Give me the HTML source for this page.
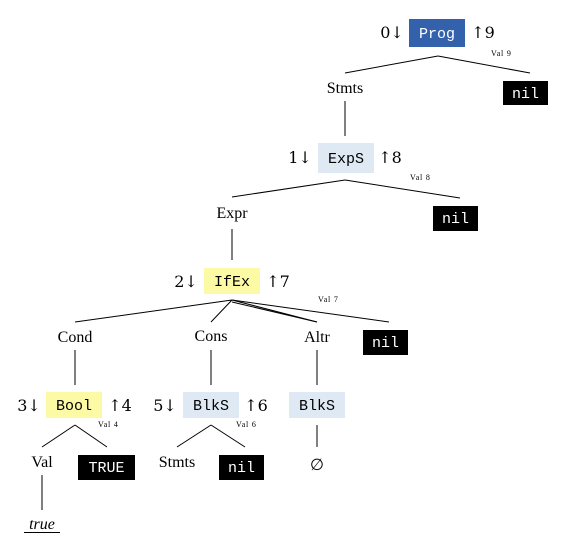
<!DOCTYPE html>
<html><head><style>
html,body{margin:0;padding:0;background:#fff;}
svg{display:block;}
.s{font-family:"Liberation Serif","DejaVu Serif",serif;font-size:16px;fill:#000;}
.a{font-family:"DejaVu Serif","Liberation Serif",serif;font-size:16px;fill:#000;}
.m{font-family:"Liberation Mono","DejaVu Sans Mono",monospace;font-size:15px;}
.v{font-family:"Liberation Serif",serif;font-size:8px;fill:#000;letter-spacing:0.8px;}
line{stroke:#000;stroke-width:1;}
</style></head><body>
<svg width="575" height="553" viewBox="0 0 575 553" xmlns="http://www.w3.org/2000/svg">
<!-- Prog -->
<text class="a" x="392" y="38" text-anchor="middle">0↓</text>
<rect x="409" y="19" width="56" height="28" fill="#3461ab"/>
<text class="m" x="437" y="38" text-anchor="middle" fill="#fff">Prog</text>
<text class="a" x="483" y="38" text-anchor="middle">↑9</text>
<text class="v" x="491" y="56">Val 9</text>
<line x1="438" y1="56" x2="345" y2="73"/><line x1="438" y1="56" x2="530" y2="73"/>
<text class="s" x="345" y="93" text-anchor="middle">Stmts</text>
<rect x="503" y="81" width="45" height="24" fill="#000"/>
<text class="m" x="525.5" y="98" text-anchor="middle" fill="#fff">nil</text>
<line x1="345" y1="101" x2="345" y2="136"/>
<!-- ExpS -->
<text class="a" x="300" y="163" text-anchor="middle">1↓</text>
<rect x="318" y="143" width="56" height="30" fill="#dfe9f4"/>
<text class="m" x="346" y="163" text-anchor="middle" fill="#000">ExpS</text>
<text class="a" x="390" y="163" text-anchor="middle">↑8</text>
<text class="v" x="410" y="180">Val 8</text>
<line x1="345" y1="180" x2="232" y2="197"/><line x1="345" y1="180" x2="460" y2="198"/>
<text class="s" x="232" y="218" text-anchor="middle">Expr</text>
<rect x="433" y="206" width="45" height="25" fill="#000"/>
<text class="m" x="455.5" y="223" text-anchor="middle" fill="#fff">nil</text>
<line x1="232" y1="229" x2="232" y2="260"/>
<!-- IfEx -->
<text class="a" x="186" y="287" text-anchor="middle">2↓</text>
<rect x="204" y="268" width="56" height="26" fill="#fdfaa6"/>
<text class="m" x="232" y="286" text-anchor="middle" fill="#000">IfEx</text>
<text class="a" x="278" y="287" text-anchor="middle">↑7</text>
<text class="v" x="318" y="302">Val 7</text>
<line x1="232" y1="300" x2="75" y2="322"/>
<line x1="232" y1="300" x2="211" y2="322"/>
<line x1="232" y1="300" x2="317" y2="322"/>
<line x1="232" y1="302" x2="317" y2="322"/>
<line x1="232" y1="300" x2="389" y2="322"/>
<text class="s" x="75" y="342" text-anchor="middle">Cond</text>
<text class="s" x="211" y="341" text-anchor="middle">Cons</text>
<text class="s" x="317" y="342" text-anchor="middle">Altr</text>
<rect x="363" y="330" width="45" height="25" fill="#000"/>
<text class="m" x="385.5" y="347" text-anchor="middle" fill="#fff">nil</text>
<line x1="75" y1="350" x2="75" y2="385"/>
<line x1="211" y1="350" x2="211" y2="385"/>
<line x1="317" y1="350" x2="317" y2="385"/>
<!-- Bool -->
<text class="a" x="29" y="411" text-anchor="middle">3↓</text>
<rect x="46" y="392" width="56" height="26" fill="#fdfaa6"/>
<text class="m" x="74" y="410" text-anchor="middle" fill="#000">Bool</text>
<text class="a" x="120" y="411" text-anchor="middle">↑4</text>
<text class="v" x="98" y="427">Val 4</text>
<!-- BlkS -->
<text class="a" x="165" y="411" text-anchor="middle">5↓</text>
<rect x="183" y="392" width="56" height="26" fill="#dfe9f4"/>
<text class="m" x="211" y="410" text-anchor="middle" fill="#000">BlkS</text>
<text class="a" x="256" y="411" text-anchor="middle">↑6</text>
<text class="v" x="236" y="427">Val 6</text>
<rect x="289" y="392" width="56" height="26" fill="#dfe9f4"/>
<text class="m" x="317" y="410" text-anchor="middle" fill="#000">BlkS</text>
<line x1="75" y1="425" x2="42" y2="447"/><line x1="75" y1="425" x2="107" y2="447"/>
<line x1="211" y1="425" x2="177" y2="447"/><line x1="211" y1="425" x2="245" y2="447"/>
<line x1="317" y1="425" x2="317" y2="447"/>
<text class="s" x="42" y="467" text-anchor="middle">Val</text>
<rect x="78" y="455" width="57" height="25" fill="#000"/>
<text class="m" x="106.5" y="472" text-anchor="middle" fill="#fff">TRUE</text>
<text class="s" x="177" y="467" text-anchor="middle">Stmts</text>
<rect x="219" y="455" width="45" height="25" fill="#000"/>
<text class="m" x="241.5" y="472" text-anchor="middle" fill="#fff">nil</text>
<text class="s" x="317" y="470" text-anchor="middle" font-size="18">∅</text>
<line x1="42" y1="475" x2="42" y2="510"/>
<text class="s" x="42" y="529" text-anchor="middle" font-style="italic" font-size="17">true</text>
<line x1="24" y1="532.5" x2="60" y2="532.5"/>
</svg>
</body></html>
